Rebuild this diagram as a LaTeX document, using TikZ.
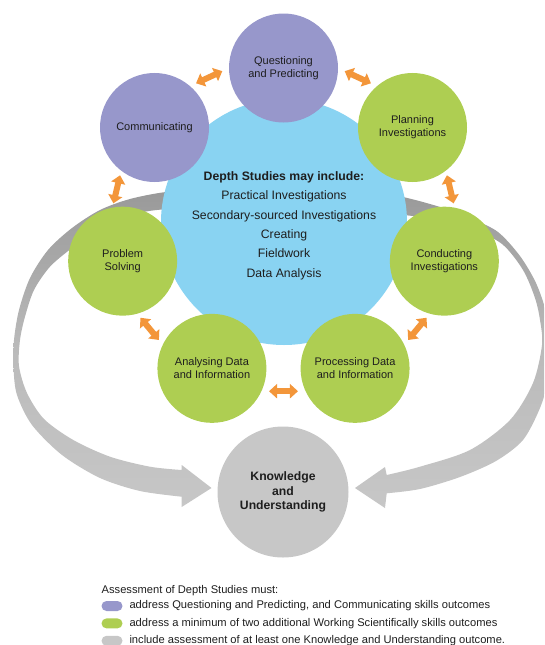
\documentclass[tikz,border=0pt]{standalone}
\usepackage{fontspec}
\setmainfont{Liberation Sans}
\usepackage{xcolor}
\usepackage{tikz}
\usetikzlibrary{arrows.meta}
\usetikzlibrary{calc}
\usetikzlibrary{positioning}

\definecolor{askpurple}{RGB}{151,151,203}
\definecolor{wsgreen}{RGB}{174,206,82}
\definecolor{depthblue}{RGB}{137,211,242}
\definecolor{kugrey}{RGB}{199,199,199}
\definecolor{linkorange}{RGB}{243,150,58}
\definecolor{inkgrey}{RGB}{30,30,30}

\begin{document}
\begin{tikzpicture}[x=1pt, y=-1pt, text=inkgrey,
    skill/.style={circle, minimum size=109pt, inner sep=0pt, align=center,
      font=\fontsize{11}{13}\selectfont},
    link/.style={<->, >={Triangle[length=8pt, width=14pt]}, line width=6pt, draw=linkorange},
    ring/.style={top color=black!40, bottom color=black!22, middle color=black!27},
    pill/.style={rounded corners=5pt, minimum width=21pt, minimum height=10pt, inner sep=0pt},
    legtext/.style={inner sep=0pt, font=\fontsize{11.15}{13}\selectfont}]

    \useasboundingbox (0,0) rectangle (544,645);
    \clip (0,0) rectangle (544,645);

    \node [circle, fill=kugrey, minimum size=131pt, inner sep=0pt, align=center,
      font=\fontsize{12.2}{14.3}\selectfont\bfseries] (know) at (283,492)
      {Knowledge\\and\\Understanding};

    % the grey ring, left arm then right arm
    \shade [ring] plot [smooth] coordinates {(250,190) (205,190) (166,192) (130,199)
        (100,210) (72,228) (48,250) (30,278) (19,310) (14,340) (13.5,368) (17,395)
        (32,425) (62,455) (100,478) (140,491) (181.7,496.7)}
      -- (181.7,507) -- (211.5,488) -- (181.7,465)
      -- plot [smooth] coordinates {(181.7,470) (150,466.7) (110,456.7) (73.3,440)
        (44,419) (27,393) (19,366) (20,340) (25,316.7) (34,290) (50,266.7) (72,248)
        (100,228) (135,214) (170,209) (250,208)} -- cycle;
    \shade [ring] plot [smooth] coordinates {(320,190) (370,192) (403,197) (440,207)
        (472,219) (498,232) (520,256) (536,283) (546,312) (551,345) (548,380)
        (540,408) (523,440) (496,461) (460,477) (420,489) (386.7,493.3)}
      -- (385,508) -- (355,488) -- (385,467)
      -- plot [smooth] coordinates {(386.7,475) (420,466.7) (470,450) (510,420)
        (533,383) (542,345) (540,320) (535,298) (523,270) (502,244) (470,228)
        (430,218) (320,207)} -- cycle;

    \coordinate (hub) at (283.5,226);
    \node [circle, fill=depthblue, minimum size=246pt] (depth) at (284,222) {};
    \node [align=center, font=\fontsize{12.24}{19.3}\selectfont] (depthlist)
      at ($(depth)+(0,3.7)$)
      {\textbf{Depth Studies may include:}\\Practical Investigations\\
       Secondary-sourced Investigations\\Creating\\Fieldwork\\Data Analysis};

    \foreach \nm/\a/\col/\txt in {quest/-90/askpurple/{Questioning\\and Predicting},
        plan/-38.57/wsgreen/{Planning\\Investigations},
        conduct/12.86/wsgreen/{Conducting\\Investigations},
        process/64.29/wsgreen/{Processing Data\\and Information},
        analyse/115.71/wsgreen/{Analysing Data\\and Information},
        solve/167.14/wsgreen/{Problem\\Solving},
        comm/218.57/askpurple/{Communicating}}
      \node [skill, fill=\col] (\nm) at ($(hub)+(\a:165 and 158)$) {\txt};

    \foreach \a/\from/\to in {-64.29/quest/plan, -12.86/plan/conduct,
        38.57/conduct/process, 90/process/analyse, 141.43/analyse/solve,
        192.86/solve/comm, 244.29/comm/quest} {
      \coordinate (gap) at ($(hub)+(\a:177 and 171)$);
      \draw [link] ($(gap)!15.6pt!(\from)$) -- ($(gap)!15.6pt!(\to)$);
    }

    % legend
    \node [legtext, anchor=west] (asshead) at (101.5,590.7) {Assessment of Depth Studies must:};
    \foreach \col/\txt [count=\k] in {askpurple/{address Questioning and Predicting, and Communicating skills outcomes},
        wsgreen/{address a minimum of two additional Working Scientifically skills outcomes},
        kugrey/{include assessment of at least one Knowledge and Understanding outcome.}} {
      \node [pill, fill=\col] (sw\k) at (112,588.6+17.4*\k) {};
      \node [legtext, right=6.6pt of sw\k] {\txt};
    }

  \end{tikzpicture}
\end{document}
